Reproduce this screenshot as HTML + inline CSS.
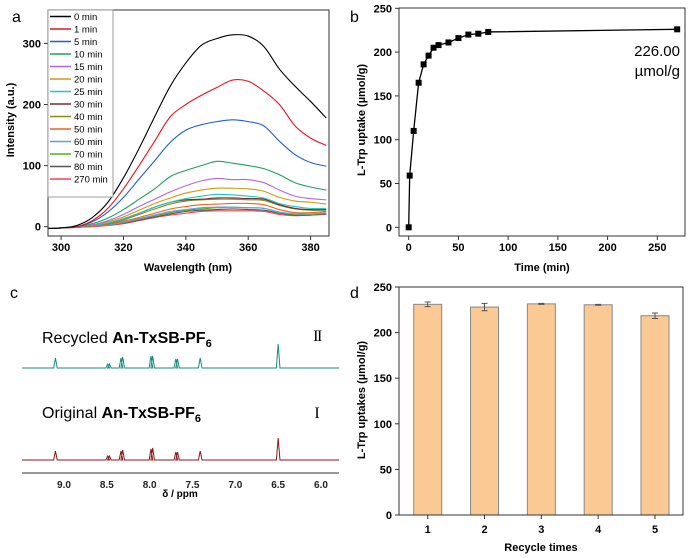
<!DOCTYPE html>
<html><head><meta charset="utf-8"><style>
body{margin:0;background:#fff;}
svg{display:block;font-family:"Liberation Sans",Arial,sans-serif;}
</style></head><body>
<svg id="fig" width="700" height="558" viewBox="0 0 700 558"></svg>
<script>
// ---- Panel a data ----
const aWave=[295,300,305,310,315,320,325,330,335,340,345,350,355,360,365,370,375,380,385];
const aLabels=["0 min","1 min","5 min","10 min","15 min","20 min","25 min","30 min","40 min","50 min","60 min","70 min","80 min","270 min"];
const aColors=["#000000","#e8141a","#1f5fd6","#1fa05a","#b066e0","#d09a10","#1cc8c8","#7a2a2a","#8a8a20","#f06020","#5aa0e0","#50b020","#555555","#f04050"];
const s0=[-3,-2,2,15,40,80,128,180,230,268,297,308,314,312,295,258,230,205,178];
const s1=[-3,-2,0,10,30,62,100,140,180,200,215,228,240,238,222,200,165,145,133];
const s5=[-3,-2,0,8,24,48,78,108,138,158,167,172,175,172,165,140,118,105,99];
const s10=[-3,-2,0,5,14,28,45,62,82,92,100,107,104,100,95,85,72,65,60];
const s15=[-3,-2,0,3,10,20,33,45,57,67,75,79,77,77,72,60,50,46,44];
const s20=[-3,-2,0,3,8,16,27,38,47,55,60,63,63,62,58,48,42,40,37];
const s25=[-3,-2,0,2,6,13,22,32,40,46,50,53,52,50,47,38,33,30,30];
const s30=[-3,-2,0,2,6,13,22,32,40,44,45,47,47,46,45,36,30,28,28];
const s40=[-3,-2,0,2,5,11,20,29,37,42,44,45,45,44,43,35,29,27,27];
const s50=[-3,-2,-1,1,4,9,15,22,29,33,36,37,38,38,36,28,23,23,25];
const s60=[-3,-2,-1,1,3,7,13,19,25,28,31,32,32,31,30,24,21,21,23];
const s70=[-3,-2,-1,1,3,7,12,18,23,27,29,31,32,31,30,23,20,20,22];
const s80=[-3,-2,-1,1,3,6,11,16,21,25,27,28,29,28,27,22,19,19,21];
const s270=[-3,-2,-1,0,2,5,10,15,19,22,25,26,26,26,25,20,18,19,20];
const aSeries=[s0,s1,s5,s10,s15,s20,s25,s30,s40,s50,s60,s70,s80,s270];
const aXTicks=[300,320,340,360,380];
const aYTicks=[0,100,200,300];
// ---- Panel b data ----
const bTime=[0,1,5,10,15,20,25,30,40,50,60,70,80,270];
const bUptake=[0,59,110,165,186,196,205,208,211,216,220,221,223,226];
const bXTicks=[0,50,100,150,200,250];
const bYTicks=[0,50,100,150,200,250];
// ---- Panel c data ----
const cPeakPpm=[9.10,8.49,8.47,8.335,8.315,7.985,7.965,7.695,7.675,7.41,6.50];
const cPeakRecycled=[10,4,4,10,11,12,12,9,9,10,24];
const cPeakOriginal=[9,4,4,9,10,11,12,8,8,9,22];
const cXTicks=[9.0,8.5,8.0,7.5,7.0,6.5,6.0];
// ---- Panel d data ----
const dCycle=["1","2","3","4","5"];
const dUptake=[231,228,231.5,230.5,218.5];
const dErr=[2.5,4,0.5,0.5,3];
const dYTicks=[0,50,100,150,200,250];

const svg=document.getElementById('fig');
const NS='http://www.w3.org/2000/svg';
function mk(tag,attrs,parent){const e=document.createElementNS(NS,tag);for(const k in attrs)e.setAttribute(k,attrs[k]);(parent||svg).appendChild(e);return e;}
function txt(x,y,s,attrs,parent){const e=mk('text',Object.assign({x:x,y:y},attrs),parent);e.textContent=s;return e;}
function smooth(pts){let d=`M${pts[0][0]},${pts[0][1]}`;for(let i=0;i<pts.length-1;i++){const p0=pts[i-1]||pts[i],p1=pts[i],p2=pts[i+1],p3=pts[i+2]||p2;const c1x=p1[0]+(p2[0]-p0[0])/6,c1y=p1[1]+(p2[1]-p0[1])/6,c2x=p2[0]-(p3[0]-p1[0])/6,c2y=p2[1]-(p3[1]-p1[1])/6;d+=` C${c1x},${c1y} ${c2x},${c2y} ${p2[0]},${p2[1]}`;}return d;}

// ================= Panel a =================
const ga=mk('g',{});


const aL=48,aR=329,aT=10,aB=236;
const axA=v=>aL+(v-295.8)/(385.9-295.8)*(aR-aL);
const ayA=v=>226.7-v*0.611;
let lab=txt(12,22,'a',{'font-size':16},ga);

const clipA=mk('clipPath',{id:'clipA'},ga);mk('rect',{x:aL,y:aT,width:aR-aL,height:aB-aT},clipA);
for(let i=aSeries.length-1;i>=0;i--){
  const pts=aWave.map((w,j)=>[axA(w),ayA(aSeries[i][j])]);
  const p=mk('path',{d:smooth(pts),fill:'none',stroke:aColors[i],'stroke-width':1.1,'clip-path':'url(#clipA)'},ga);
  
  
}
let fr=mk('rect',{x:aL,y:aT,width:aR-aL,height:aB-aT,fill:'none',stroke:'#333','stroke-width':1},ga);

aXTicks.forEach(v=>{const x=axA(v);mk('line',{x1:x,x2:x,y1:aB,y2:aB+4,stroke:'#333'},ga);
  const t=txt(x,251,v,{'font-size':11,'font-weight':'bold','text-anchor':'middle'},ga);
  });
aYTicks.forEach(v=>{const y=ayA(v);mk('line',{x1:aL-4,x2:aL,y1:y,y2:y,stroke:'#333'},ga);
  const t=txt(aL-7,y+4,v,{'font-size':11,'font-weight':'bold','text-anchor':'end'},ga);
  });
let xt=txt(188,271,'Wavelength (nm)',{'font-size':11,'font-weight':'bold','text-anchor':'middle'},ga);

let yt=txt(0,0,'Intensity (a.u.)',{'font-size':11,'font-weight':'bold','text-anchor':'middle',transform:'translate(14,120) rotate(-90)'},ga);

const lg=mk('g',{},ga);

mk('rect',{x:48,y:10,width:65,height:187,fill:'#fff',stroke:'#888','stroke-width':0.8},lg);
aLabels.forEach((s,i)=>{const y=16.5+i*12.5;
  const e=mk('line',{x1:50,x2:71,y1:y,y2:y,stroke:aColors[i],'stroke-width':1.5},lg);
  
  const t=txt(74,y+3.5,s,{'font-size':9.5},lg);
  });

// ================= Panel b =================
const gb=mk('g',{});


const bL=399,bR=685,bT=8,bB=236;
const bx=v=>408.7+v*(657.3-408.7)/250;
const by=v=>227.3-v*(227.3-8.3)/250;
lab=txt(350,22,'b',{'font-size':16},gb);

fr=mk('rect',{x:bL,y:bT,width:bR-bL,height:bB-bT,fill:'none',stroke:'#333'},gb);

bXTicks.forEach(v=>{const x=bx(v);mk('line',{x1:x,x2:x,y1:bB,y2:bB+4,stroke:'#333'},gb);
  const t=txt(x,251,v,{'font-size':11,'font-weight':'bold','text-anchor':'middle'},gb);
  });
bYTicks.forEach(v=>{const y=by(v);mk('line',{x1:bL-4,x2:bL,y1:y,y2:y,stroke:'#333'},gb);
  const t=txt(bL-7,y+4,v,{'font-size':11,'font-weight':'bold','text-anchor':'end'},gb);
  });
let ln=mk('polyline',{points:bTime.map((t,i)=>bx(t)+','+by(bUptake[i])).join(' '),fill:'none',stroke:'#000','stroke-width':1.3},gb);

bTime.forEach((t,i)=>{const r=mk('rect',{x:bx(t)-3,y:by(bUptake[i])-3,width:6,height:6,fill:'#000'},gb);
  });
let an=txt(680,56,'226.00',{'font-size':15,'text-anchor':'end'},gb);

an=txt(680,76,'µmol/g',{'font-size':15,'text-anchor':'end'},gb);

xt=txt(542,271,'Time (min)',{'font-size':11,'font-weight':'bold','text-anchor':'middle'},gb);

yt=txt(0,0,'L-Trp uptake (µmol/g)',{'font-size':11,'font-weight':'bold','text-anchor':'middle',transform:'translate(365,120) rotate(-90)'},gb);


// ================= Panel c =================
const gc=mk('g',{});


const cL=22,cR=339,cAx=473;
const cx=v=>64+(9.0-v)*(321-64)/3.0;
lab=txt(10,298,'c',{'font-size':16},gc);

function nmr(base,heights,color,name){
  let d=`M${cL},${base}`;
  const xs=cPeakPpm.map(cx);
  xs.forEach((x,i)=>{d+=` L${x-1.8},${base} L${x},${base-heights[i]} L${x+1.8},${base}`;});
  d+=` L${cR},${base}`;
  const p=mk('path',{d:d,fill:'none',stroke:color,'stroke-width':1},gc);
  
}
nmr(368,cPeakRecycled,'#1a8a82','recycled-spectrum');
nmr(460,cPeakOriginal,'#8a1a1a','original-spectrum');
function title(x,y,pre,name){const t=mk('text',{x:x,y:y,'font-size':16},gc);
  
  const a=mk('tspan',{},t);a.textContent=pre+' ';
  const b=mk('tspan',{'font-weight':'bold'},t);b.textContent='An-TxSB-PF';
  const c=mk('tspan',{'font-weight':'bold','font-size':11,dy:4},t);c.textContent='6';}
title(42,343,'Recycled','recycled-title');
title(42,418,'Original','original-title');
let rn=txt(317,341,'II',{'font-size':16,'font-family':'"Liberation Serif",serif','text-anchor':'middle','letter-spacing':'-1.5'},gc);

rn=txt(317,418,'I',{'font-size':16,'font-family':'"Liberation Serif",serif','text-anchor':'middle'},gc);

let ax=mk('line',{x1:cL,x2:cR,y1:cAx,y2:cAx,stroke:'#999','stroke-width':2},gc);

cXTicks.forEach(v=>{const x=cx(v);
  const t=txt(x,488,v.toFixed(1),{'font-size':10,'font-weight':'bold','text-anchor':'middle','fill':'#222'},gc);
  });
xt=txt(180,497,'δ / ppm',{'font-size':10,'font-weight':'bold','text-anchor':'middle'},gc);


// ================= Panel d =================
const gd=mk('g',{});


const dL=399,dR=683,dT=287,dB=515;
const dy=v=>dB-v*(dB-dT)/250;
const dx=i=>427.7+i*(655-427.7)/4;
lab=txt(350,298,'d',{'font-size':16},gd);

dUptake.forEach((v,i)=>{const x=dx(i);
  const r=mk('rect',{x:x-14,y:dy(v),width:28,height:dB-dy(v),fill:'#fbc994',stroke:'#888','stroke-width':1},gd);
  
  const y1=dy(v+dErr[i]),y2=dy(v-dErr[i]);
  const e=mk('path',{d:`M${x},${y1} V${y2} M${x-3},${y1} H${x+3} M${x-3},${y2} H${x+3}`,stroke:'#555','stroke-width':1,fill:'none'},gd);
  
  mk('line',{x1:x,x2:x,y1:dB,y2:dB+4,stroke:'#333'},gd);
  const t=txt(x,533,dCycle[i],{'font-size':11,'font-weight':'bold','text-anchor':'middle'},gd);
  });
fr=mk('rect',{x:dL,y:dT,width:dR-dL,height:dB-dT,fill:'none',stroke:'#333'},gd);

dYTicks.forEach(v=>{const y=dy(v);mk('line',{x1:dL-4,x2:dL,y1:y,y2:y,stroke:'#333'},gd);
  const t=txt(dL-7,y+4,v,{'font-size':11,'font-weight':'bold','text-anchor':'end'},gd);
  });
xt=txt(541,551,'Recycle times',{'font-size':11,'font-weight':'bold','text-anchor':'middle'},gd);

yt=txt(0,0,'L-Trp uptakes (µmol/g)',{'font-size':11,'font-weight':'bold','text-anchor':'middle',transform:'translate(365,400) rotate(-90)'},gd);

</script>
</body></html>
